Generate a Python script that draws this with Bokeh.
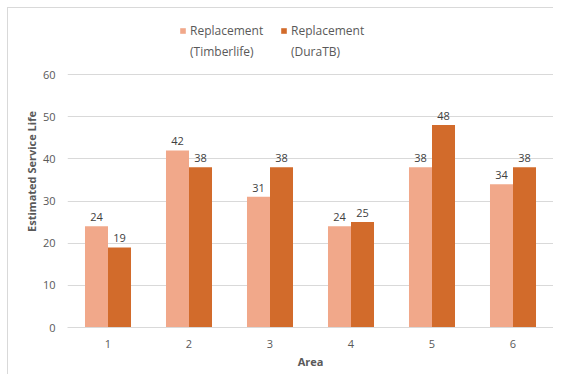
from bokeh.plotting import figure
from bokeh.models import ColumnDataSource, FixedTicker, Legend, LegendItem
from bokeh.transform import dodge
from bokeh.embed import file_html
from bokeh.resources import INLINE
from bokeh.core.properties import value

areas = ["1", "2", "3", "4", "5", "6"]
timberlife = [24, 42, 31, 24, 38, 34]
duratb = [19, 38, 38, 25, 48, 38]
y_ticks = [0, 10, 20, 30, 40, 50, 60]
legend_line1 = ["Replacement", "Replacement"]
legend_line2 = ["(Timberlife)", "(DuraTB)"]

LIGHT = "#F1A88A"
DARK = "#D26B2B"
FONT = "Open Sans"
GRAY = "#595959"

# layout (pixels)
FRAME_H = 312          # frame height (extends above the axis top to hold the legend)
PLOT_H = 253           # pixel height of the 0..60 span
y_top = y_ticks[-1] * FRAME_H / PLOT_H

xpos = list(range(1, len(areas) + 1))
src = ColumnDataSource(dict(
    x=xpos, t=timberlife, d=duratb,
    tl=[str(v) for v in timberlife], dl=[str(v) for v in duratb],
))

p = figure(width=546, height=367, x_range=(0.5, len(areas) + 0.5), y_range=(0, y_top),
           output_backend="svg", toolbar_location=None,
           min_border_left=59, min_border_right=1, min_border_top=7, min_border_bottom=48)
p.styles = {"border-left": "1px solid #D9D9D9", "border-top": "1px solid #D9D9D9",
            "margin-left": "7px", "margin-top": "7px"}
p.outline_line_color = None
p.background_fill_color = "white"
p.border_fill_color = "white"

bw = 0.284
r1 = p.vbar(x=dodge("x", -bw / 2, range=p.x_range), top="t", width=bw, source=src,
            fill_color=LIGHT, line_color=None)
r2 = p.vbar(x=dodge("x", bw / 2, range=p.x_range), top="d", width=bw, source=src,
            fill_color=DARK, line_color=None)
# transparent twins, used only for the legend's second text line
g1 = p.vbar(x=dodge("x", -bw / 2, range=p.x_range), top="t", width=bw, source=src,
            fill_alpha=0, line_alpha=0)
g2 = p.vbar(x=dodge("x", bw / 2, range=p.x_range), top="d", width=bw, source=src,
            fill_alpha=0, line_alpha=0)

for col, lab, off in (("t", "tl", -bw / 2), ("d", "dl", bw / 2)):
    p.text(x=dodge("x", off, range=p.x_range), y=col, text=lab, source=src,
           text_align="center", text_baseline="alphabetic", y_offset=-9,
           text_font=value(FONT), text_font_size="11px", text_color="#404040")

# axes
p.xaxis.ticker = FixedTicker(ticks=xpos)
p.xaxis.major_label_overrides = {i: a for i, a in zip(xpos, areas)}
p.yaxis.ticker = FixedTicker(ticks=y_ticks)
for ax in (p.xaxis[0], p.yaxis[0]):
    ax.major_tick_line_color = None
    ax.minor_tick_line_color = None
    ax.major_label_text_font = FONT
    ax.major_label_text_font_size = "11px"
    ax.major_label_text_color = GRAY
    ax.axis_label_text_font = FONT
    ax.axis_label_text_font_size = "11px"
    ax.axis_label_text_font_style = "bold"
    ax.axis_label_text_color = GRAY
p.xaxis.axis_line_color = "#D9D9D9"
p.yaxis.axis_line_color = None
p.xaxis.axis_label = "Area"
p.yaxis.axis_label = "Estimated Service Life"
p.xaxis.major_label_standoff = 6
p.xaxis.axis_label_standoff = 3
p.yaxis.major_label_standoff = 6
p.yaxis.axis_label_standoff = 1

p.xgrid.grid_line_color = None
p.ygrid.grid_line_color = "#D9D9D9"
p.ygrid.grid_line_width = 1

common = dict(orientation="horizontal", padding=0, margin=0, spacing=16,
              glyph_width=7, glyph_height=7, label_standoff=4, label_width=74,
              border_line_color=None, background_fill_alpha=0,
              label_text_font=FONT, label_text_font_size="12px", label_text_color=GRAY)
legend_a = Legend(items=[LegendItem(label=legend_line1[0], renderers=[r1]),
                         LegendItem(label=legend_line1[1], renderers=[r2])],
                  location=(112, 288), **common)
legend_b = Legend(items=[LegendItem(label=legend_line2[0], renderers=[g1]),
                         LegendItem(label=legend_line2[1], renderers=[g2])],
                  location=(112, 267), **common)
p.add_layout(legend_a, "center")
p.add_layout(legend_b, "center")

open("out.html", "w").write(file_html(p, INLINE))
